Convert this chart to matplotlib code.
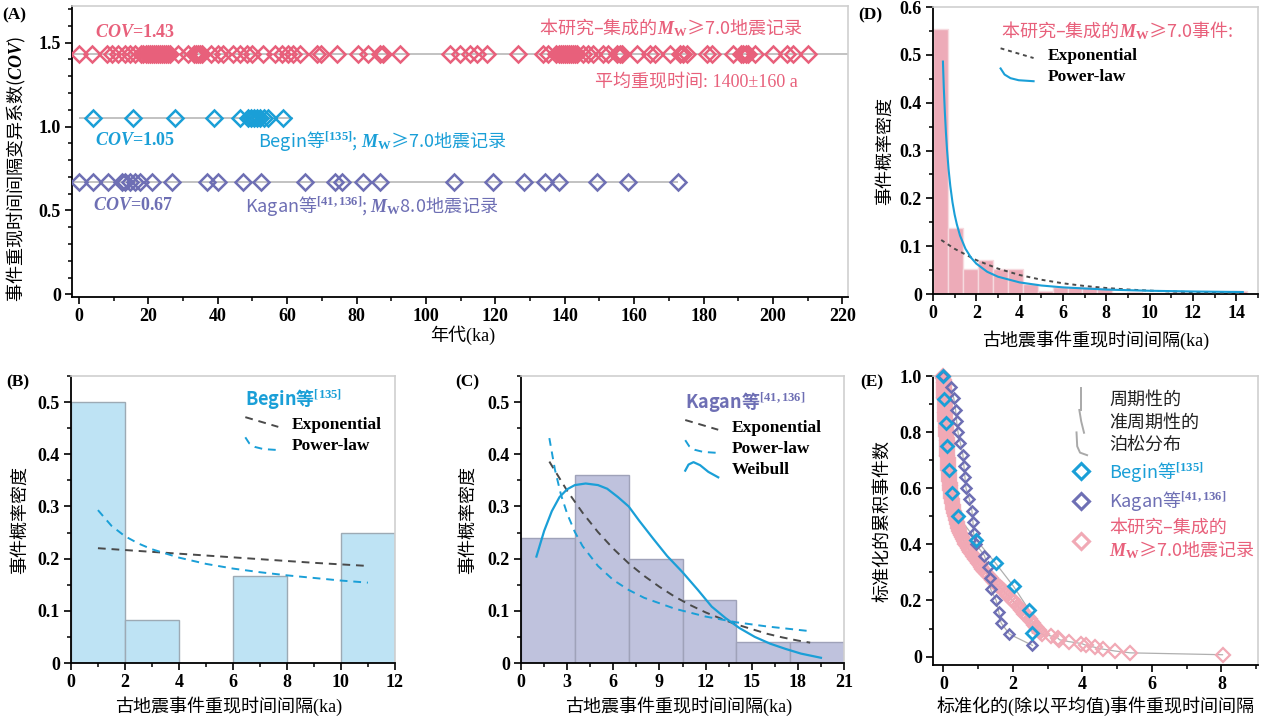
import numpy as np
import matplotlib
matplotlib.use('Agg')
import matplotlib.pyplot as plt
from matplotlib.ticker import MultipleLocator, FuncFormatter
from matplotlib.legend_handler import HandlerBase
from matplotlib.lines import Line2D

plt.rcParams['font.family'] = ['Liberation Serif', 'Noto Sans CJK SC']
plt.rcParams['font.weight'] = 'bold'
plt.rcParams['mathtext.fontset'] = 'custom'
plt.rcParams['mathtext.rm'] = 'Liberation Serif:bold'
plt.rcParams['mathtext.it'] = 'Liberation Serif:italic:bold'
plt.rcParams['mathtext.bf'] = 'Liberation Serif:bold'
plt.rcParams['axes.unicode_minus'] = False

PINK = '#E8607B'
BLUE = '#1A9FD7'
PURPLE = '#6E6FB4'
LPINK = '#F1A9B5'
GREY_LINE = '#B8B8B8'
DARK = '#4A4A4A'
CJK = ['Noto Sans CJK SC']   # lines that mix CJK with mathtext

# --- (A) event ages (ka) for each record ---
cov_values = [1.43, 1.05, 0.67]
pink_times = [0.0, 3.7, 8.0, 9.4, 11.3, 13.3, 14.7, 16.1,
              18.0, 18.6, 19.2, 19.8, 20.4, 21.0, 21.6, 22.2, 22.8, 23.4, 24.0, 24.6, 25.2, 25.8, 26.2,
              28.6, 31.5, 33.2, 33.8, 34.4, 35.0, 35.6, 38.2, 40.1, 41.6, 44.5, 46.4, 48.3, 49.8,
              53.1, 56.5, 58.4, 60.3, 61.8, 63.7, 68.5, 69.9, 74.3, 80.5, 83.4, 86.7, 87.7, 92.5,
              106.9, 109.8, 112.7, 114.6, 117.5, 126.6, 133.8, 135.2,
              137.6, 138.2, 138.8, 139.4, 140.0, 140.6, 141.2, 141.8, 142.4, 143.0, 143.6,
              145.3, 146.8, 148.2, 151.1, 152.5, 155.0, 155.8, 156.4, 160.7, 164.6, 166.0,
              170.3, 173.2, 174.2, 175.1, 180.9, 182.3, 188.6, 190.9, 191.5, 192.2, 192.9,
              194.8, 200.1, 204.0, 205.8, 210.2]
begin_times = [4.1, 15.6, 27.7, 38.9, 46.4, 48.7, 49.6, 50.5, 51.4, 52.3, 53.2, 54.5, 58.8]
kagan_times = [0.0, 4.1, 8.4, 12.3, 13.2, 14.7, 16.1, 17.6, 21.0, 26.7, 36.8, 40.1, 47.2,
               52.6, 65.1, 73.8, 75.7, 81.9, 86.7, 108.2, 119.2, 128.2, 134.3, 138.4,
               149.2, 158.3, 172.5]

# --- (B) Begin histogram and fits ---
b_bin_width = 2
b_heights = [0.5, 0.083, 0.0, 0.167, 0.0, 0.25]
b_exp_x = [1, 3, 5, 7, 9, 11]
b_exp_y = [0.220, 0.213, 0.206, 0.199, 0.192, 0.186]
b_pow_x = [1, 1.5, 2, 2.5, 3, 4, 5, 6, 7, 8, 9, 10, 11]
b_pow_y = [0.293, 0.263, 0.243, 0.229, 0.218, 0.202, 0.190, 0.181, 0.174, 0.168, 0.163, 0.158, 0.154]

# --- (C) Kagan histogram and fits ---
c_bin_width = 3.5
c_heights = [0.24, 0.36, 0.2, 0.12, 0.04, 0.04]
c_exp_x = [1.84, 3, 4, 5, 6, 7, 8, 9, 10, 11, 12, 13, 14, 15, 16, 17, 18, 18.8]
c_exp_y = [0.386, 0.330, 0.288, 0.251, 0.219, 0.191, 0.167, 0.146, 0.127, 0.111, 0.097,
           0.085, 0.074, 0.065, 0.056, 0.049, 0.043, 0.039]
c_pow_x = [1.84, 2.2, 2.6, 3, 3.5, 4, 5, 6, 7, 8, 10, 12, 14, 16, 18.8]
c_pow_y = [0.431, 0.371, 0.322, 0.286, 0.251, 0.224, 0.186, 0.159, 0.140, 0.125, 0.104,
           0.089, 0.078, 0.070, 0.061]
c_wei_x = [1.0, 1.5, 2.0, 2.5, 3.0, 3.5, 4.2, 5.0, 5.6, 6.3, 7.0, 7.7, 8.6, 9.5, 10.5,
           11.5, 12.4, 13.3, 14.2, 15.2, 16.2, 17.2, 18.2, 19.5]
c_wei_y = [0.204, 0.253, 0.291, 0.318, 0.333, 0.341, 0.344, 0.341, 0.334, 0.318, 0.300,
           0.272, 0.238, 0.205, 0.174, 0.140, 0.108, 0.086, 0.067, 0.050, 0.037, 0.027,
           0.018, 0.010]

# --- (D) this study histogram and fits ---
d_bin_width = 0.69
d_heights = [0.554, 0.139, 0.052, 0.071, 0.052, 0.052, 0.021, 0.007, 0.014, 0.014, 0.014,
             0.012, 0.003, 0.004, 0.003, 0.003, 0.004, 0.003, 0.003, 0.003, 0.007]
d_exp_x = [0.38, 1, 2, 3, 4, 5, 6, 7, 8, 9, 10, 11, 12, 13, 14.3]
d_exp_y = [0.113, 0.0945, 0.0709, 0.0531, 0.0398, 0.0299, 0.0224, 0.0168, 0.0126, 0.0094,
           0.0071, 0.0053, 0.0040, 0.0030, 0.0020]
d_pow_x = [0.46, 0.5, 0.55, 0.6, 0.65, 0.72, 0.8, 0.9, 1.0, 1.1, 1.25, 1.5, 1.75, 2.0, 2.5,
           3.0, 4.0, 5.0, 6.0, 8.0, 10.0, 12.0, 14.3]
d_pow_y = [0.486, 0.431, 0.379, 0.336, 0.301, 0.261, 0.226, 0.192, 0.166, 0.146, 0.122,
           0.0946, 0.0765, 0.0635, 0.0466, 0.0362, 0.0243, 0.0178, 0.0139, 0.0093, 0.0068,
           0.0053, 0.0042]

# --- (E) normalized recurrence intervals, sorted ---
e_begin_x = [0.0, 0.03, 0.08, 0.11, 0.15, 0.25, 0.42, 0.94, 1.50, 2.02, 2.46, 2.56]
e_kagan_x = [0.0, 0.22, 0.30, 0.35, 0.38, 0.42, 0.49, 0.56, 0.59, 0.62, 0.65, 0.75, 0.82,
             0.85, 0.87, 0.94, 1.18, 1.28, 1.33, 1.36, 1.52, 1.59, 1.66, 1.90, 2.56]
e_pink_x = [0.00, 0.00, 0.01, 0.01, 0.01, 0.02, 0.02, 0.02, 0.02, 0.03, 0.03, 0.03, 0.03, 0.04, 0.04, 0.04,
            0.04, 0.05, 0.05, 0.05, 0.05, 0.06, 0.06, 0.06, 0.06, 0.07, 0.07, 0.07, 0.07, 0.08, 0.08,
            0.08, 0.08, 0.09, 0.09, 0.09, 0.10, 0.10, 0.10, 0.10, 0.11, 0.11, 0.11, 0.11, 0.12, 0.12,
            0.12, 0.13, 0.13, 0.14, 0.14, 0.15, 0.15, 0.16, 0.16, 0.17, 0.17, 0.18, 0.18, 0.19, 0.19,
            0.20, 0.21, 0.22, 0.22, 0.23, 0.24, 0.25,
            0.26, 0.27, 0.28, 0.29, 0.30, 0.31, 0.32, 0.33,
            0.35, 0.36, 0.38, 0.40, 0.41, 0.43, 0.45,
            0.46, 0.49, 0.51, 0.54, 0.56, 0.58, 0.61, 0.63,
            0.67, 0.70, 0.74, 0.77, 0.81, 0.84, 0.88,
            0.92, 0.96, 1.00, 1.04, 1.08, 1.12, 1.16, 1.20,
            1.25, 1.30, 1.36, 1.41, 1.46, 1.52, 1.57,
            1.62, 1.68, 1.74, 1.79, 1.84, 1.89, 1.95, 2.00,
            2.04, 2.09, 2.14, 2.19, 2.24, 2.28, 2.33,
            2.38, 2.43, 2.48, 2.53, 2.58, 2.62, 2.66, 2.70,
            2.74, 2.78,
            2.84, 3.10, 3.29, 3.34, 3.61, 3.97, 4.11, 4.35, 4.59, 4.93, 5.38, 8.03]


class ShapeHandler(HandlerBase):
    # draws a legend key along a small custom path
    def __init__(self, us, vs):
        super().__init__()
        self.us, self.vs = us, vs

    def create_artists(self, legend, orig_handle, xdescent, ydescent, width, height, fontsize, trans):
        xs = [-xdescent + width * u for u in self.us]
        ys = [-ydescent + height * v for v in self.vs]
        ln = Line2D(xs, ys)
        self.update_prop(ln, orig_handle, legend)
        ln.set_transform(trans)
        return [ln]


EXP_SHAPE = ([0, 1], [0.95, 0.15])
POW_SHAPE = ([0, 0.12, 0.3, 0.55, 1], [1.05, 0.55, 0.25, 0.08, 0.0])
WEI_SHAPE = ([0, 0.1, 0.25, 0.45, 0.7, 1], [0.3, 0.8, 1.0, 0.75, 0.2, -0.25])

fmt = FuncFormatter(lambda v, p: '0' if abs(v) < 1e-9 else f'{v:.1f}')
LABEL_FS = 13


def style_axes(ax):
    for s in ['left', 'bottom']:
        ax.spines[s].set_color('black')
        ax.spines[s].set_linewidth(1.3)
    for s in ['top', 'right']:
        ax.spines[s].set_color('#CFCFCF')
        ax.spines[s].set_linewidth(1.2)
    ax.tick_params(which='major', direction='out', length=5, width=1.2, labelsize=13, pad=3)
    ax.tick_params(which='minor', direction='out', length=3, width=1.1)
    ax.tick_params(top=False, right=False, which='both')


fig = plt.figure(figsize=(12.69, 7.18), dpi=100)
fig.patch.set_facecolor('white')

# ---------------- (A) ----------------
axA = fig.add_axes([0.0567, 0.5864, 0.6115, 0.4053])
axA.axhline(cov_values[0], color=GREY_LINE, lw=1.2, zorder=1)
axA.hlines(cov_values[1], 0, max(begin_times) + 3, color=GREY_LINE, lw=1.2, zorder=1)
axA.hlines(cov_values[2], -2, max(kagan_times), color=GREY_LINE, lw=1.2, zorder=1)
for times, cov, col in [(pink_times, cov_values[0], PINK), (begin_times, cov_values[1], BLUE),
                        (kagan_times, cov_values[2], PURPLE)]:
    axA.plot(times, [cov] * len(times), ls='none', marker='D', ms=8.5, mfc='none',
             mec=col, mew=1.8, zorder=3)
axA.set_xlim(-2, 221.6)
axA.set_ylim(-0.015, 1.718)
axA.xaxis.set_major_locator(MultipleLocator(20))
axA.xaxis.set_minor_locator(MultipleLocator(10))
axA.yaxis.set_major_locator(MultipleLocator(0.5))
axA.yaxis.set_minor_locator(MultipleLocator(0.1))
axA.yaxis.set_major_formatter(fmt)
style_axes(axA)
axA.set_xlabel('年代(ka)', fontsize=LABEL_FS, fontweight='normal')
axA.xaxis.set_label_coords(0.504, -0.097)
axA.set_ylabel('事件重现时间间隔变异系数($COV$)', fontsize=LABEL_FS, fontweight='normal', family=CJK)
axA.yaxis.set_label_coords(-0.057, 0.44)

axA.text(4.6, 1.558, r'$COV$=1.43', color=PINK, fontsize=13, va='center', ha='left')
axA.text(208.4, 1.588, r'本研究–集成的$M_{\mathrm{W}}$≥7.0地震记录', color=PINK, fontsize=13,
         fontweight='normal', family=CJK, va='center', ha='right')
axA.text(207.2, 1.266, '平均重现时间: 1400±160 a', color=PINK, fontsize=13,
         fontweight='normal', va='center', ha='right')
axA.text(4.6, 0.915, r'$COV$=1.05', color=BLUE, fontsize=13, va='center', ha='left')
axA.text(51.6, 0.915, r'Begin等$^{[135]}$; $M_{\mathrm{W}}$≥7.0地震记录', color=BLUE, fontsize=13,
         fontweight='normal', family=CJK, va='center', ha='left')
axA.text(4.0, 0.528, r'$COV$=0.67', color=PURPLE, fontsize=13, va='center', ha='left')
axA.text(47.8, 0.528, r'Kagan等$^{[41,136]}$; $M_{\mathrm{W}}$8.0地震记录', color=PURPLE, fontsize=13,
         fontweight='normal', family=CJK, va='center', ha='left')

# ---------------- (B) ----------------
axB = fig.add_axes([0.0559, 0.0766, 0.2553, 0.3997])
b_lefts = np.arange(len(b_heights)) * b_bin_width
axB.bar(b_lefts, b_heights, width=b_bin_width, align='edge', color='#BEE3F4',
        edgecolor='#9DAAB4', lw=1.0, zorder=1)
h_exp, = axB.plot(b_exp_x, b_exp_y, color=DARK, ls=(0, (4, 3)), lw=1.4, zorder=3)
h_pow, = axB.plot(b_pow_x, b_pow_y, color=BLUE, ls=(0, (4, 3)), lw=1.4, zorder=3)
axB.set_xlim(0, 12)
axB.set_ylim(0, 0.55)
axB.xaxis.set_major_locator(MultipleLocator(2))
axB.xaxis.set_minor_locator(MultipleLocator(1))
axB.yaxis.set_major_locator(MultipleLocator(0.1))
axB.yaxis.set_minor_locator(MultipleLocator(0.05))
axB.yaxis.set_major_formatter(fmt)
style_axes(axB)
legB = axB.legend([h_exp, h_pow], ['Exponential', 'Power-law'], loc='upper left',
                  bbox_to_anchor=(0.49, 1.015), frameon=False, fontsize=12.5,
                  title=r'Begin等$^{[135]}$',
                  title_fontproperties={'family': CJK, 'size': 13, 'weight': 'bold'},
                  alignment='left', handlelength=1.9, handletextpad=0.8, labelspacing=0.3,
                  handler_map={h_exp: ShapeHandler(*EXP_SHAPE), h_pow: ShapeHandler(*POW_SHAPE)})
legB.get_title().set_color(BLUE)
axB.set_xlabel('古地震事件重现时间间隔(ka)', fontsize=LABEL_FS, fontweight='normal')
axB.xaxis.set_label_coords(0.488, -0.115)
axB.set_ylabel('事件概率密度', fontsize=LABEL_FS, fontweight='normal')
axB.yaxis.set_label_coords(-0.13, 0.5)

# ---------------- (C) ----------------
axC = fig.add_axes([0.4106, 0.0766, 0.2545, 0.3997])
c_lefts = np.arange(len(c_heights)) * c_bin_width
axC.bar(c_lefts, c_heights, width=c_bin_width, align='edge', color='#BFC2DD',
        edgecolor='#9FA2B9', lw=1.0, zorder=1)
hc_exp, = axC.plot(c_exp_x, c_exp_y, color=DARK, ls=(0, (4, 3)), lw=1.4, zorder=3)
hc_pow, = axC.plot(c_pow_x, c_pow_y, color=BLUE, ls=(0, (4, 3)), lw=1.4, zorder=3)
hc_wei, = axC.plot(c_wei_x, c_wei_y, color=BLUE, lw=1.6, zorder=3)
axC.set_xlim(0, 21)
axC.set_ylim(0, 0.55)
axC.xaxis.set_major_locator(MultipleLocator(3))
axC.xaxis.set_minor_locator(MultipleLocator(1.5))
axC.yaxis.set_major_locator(MultipleLocator(0.1))
axC.yaxis.set_minor_locator(MultipleLocator(0.05))
axC.yaxis.set_major_formatter(fmt)
style_axes(axC)
legC = axC.legend([hc_exp, hc_pow, hc_wei], ['Exponential', 'Power-law', 'Weibull'], loc='upper left',
                  bbox_to_anchor=(0.46, 1.005), frameon=False, fontsize=12.5,
                  title=r'Kagan等$^{[41,136]}$',
                  title_fontproperties={'family': CJK, 'size': 13, 'weight': 'bold'},
                  alignment='left', handlelength=1.9, handletextpad=0.8, labelspacing=0.3,
                  handler_map={hc_exp: ShapeHandler(*EXP_SHAPE), hc_pow: ShapeHandler(*POW_SHAPE),
                               hc_wei: ShapeHandler(*WEI_SHAPE)})
legC.get_title().set_color(PURPLE)
axC.set_xlabel('古地震事件重现时间间隔(ka)', fontsize=LABEL_FS, fontweight='normal')
axC.xaxis.set_label_coords(0.489, -0.115)
axC.set_ylabel('事件概率密度', fontsize=LABEL_FS, fontweight='normal')
axC.yaxis.set_label_coords(-0.136, 0.5)

# ---------------- (D) ----------------
axD = fig.add_axes([0.7352, 0.5905, 0.2561, 0.3997])
d_lefts = np.arange(len(d_heights)) * d_bin_width
axD.bar(d_lefts, d_heights, width=d_bin_width, align='edge', color='#EDABB8',
        edgecolor='#F6DADF', lw=1.0, zorder=1)
hd_exp, = axD.plot(d_exp_x, d_exp_y, color=DARK, ls=(0, (2, 2)), lw=1.4, zorder=3)
hd_pow, = axD.plot(d_pow_x, d_pow_y, color=BLUE, lw=1.5, zorder=3)
axD.set_xlim(0, 15)
axD.set_ylim(0, 0.6)
axD.xaxis.set_major_locator(MultipleLocator(2))
axD.xaxis.set_minor_locator(MultipleLocator(1))
axD.yaxis.set_major_locator(MultipleLocator(0.1))
axD.yaxis.set_minor_locator(MultipleLocator(0.05))
axD.yaxis.set_major_formatter(fmt)
style_axes(axD)
legD = axD.legend([hd_exp, hd_pow], ['Exponential', 'Power-law'], loc='upper left',
                  bbox_to_anchor=(0.16, 1.01), frameon=False, fontsize=12.5,
                  title=r'本研究–集成的$M_{\mathrm{W}}$≥7.0事件:',
                  title_fontproperties={'family': CJK, 'size': 13, 'weight': 'normal'},
                  alignment='left', handlelength=1.9, handletextpad=0.8, labelspacing=0.3,
                  handler_map={hd_exp: ShapeHandler(*EXP_SHAPE), hd_pow: ShapeHandler(*POW_SHAPE)})
legD.get_title().set_color(PINK)
axD.set_xlabel('古地震事件重现时间间隔(ka)', fontsize=LABEL_FS, fontweight='normal')
axD.xaxis.set_label_coords(0.5, -0.125)
axD.set_ylabel('事件概率密度', fontsize=LABEL_FS, fontweight='normal')
axD.yaxis.set_label_coords(-0.12, 0.5)

# ---------------- (E) ----------------
axE = fig.add_axes([0.7352, 0.0738, 0.2561, 0.4025])
series_E = [(e_pink_x, LPINK, 7.0, 1.6), (e_kagan_x, PURPLE, 5.5, 1.8), (e_begin_x, BLUE, 6.0, 2.0)]
for xs, col, ms, mew in series_E:
    n = len(xs)
    ys = (n - np.arange(n)) / n
    axE.plot(xs, ys, color='#AFAFAF', lw=0.9, zorder=2, clip_on=False)
    axE.plot(xs, ys, ls='none', marker='D', ms=ms, mfc='none', mec=col, mew=mew,
             zorder=3, clip_on=False)
axE.set_xlim(-0.3, 9.05)
axE.set_ylim(-0.03, 1.0)
axE.xaxis.set_major_locator(MultipleLocator(2))
axE.xaxis.set_minor_locator(MultipleLocator(1))
axE.yaxis.set_major_locator(MultipleLocator(0.2))
axE.yaxis.set_minor_locator(MultipleLocator(0.1))
axE.yaxis.set_major_formatter(fmt)
style_axes(axE)

he_per = Line2D([], [], color='#A9A9A9', lw=1.4)
he_qua = Line2D([], [], color='#A9A9A9', lw=1.4)
he_poi = Line2D([], [], color='#A9A9A9', lw=1.4)
he_beg = Line2D([], [], ls='none', marker='D', ms=8, mfc='none', mec=BLUE, mew=2.2)
he_kag = Line2D([], [], ls='none', marker='D', ms=8, mfc='none', mec=PURPLE, mew=2.2)
he_pin = Line2D([], [], ls='none', marker='D', ms=8, mfc='none', mec=LPINK, mew=2.2)
legE = axE.legend([he_per, he_qua, he_poi, he_beg, he_kag, he_pin],
                  ['周期性的', '准周期性的', '泊松分布', r'Begin等$^{[135]}$', r'Kagan等$^{[41,136]}$',
                   '本研究–集成的\n$M_{\\mathrm{W}}$≥7.0地震记录'],
                  loc='upper left', bbox_to_anchor=(0.37, 1.0), frameon=False,
                  prop={'size': 13, 'weight': 'normal'}, handlelength=1.3, handletextpad=0.9,
                  labelspacing=0.3, numpoints=1,
                  handler_map={he_per: ShapeHandler([0.5, 0.5], [-0.4, 1.4]),
                               he_qua: ShapeHandler([0.42, 0.5, 0.62], [1.4, 0.5, -0.4]),
                               he_poi: ShapeHandler([0.3, 0.33, 0.45, 0.75], [1.4, 0.3, -0.2, -0.4])})
for i, (t, c) in enumerate(zip(legE.get_texts(), ['#222222', '#222222', '#222222', BLUE, PURPLE, PINK])):
    t.set_color(c)
    if i >= 3:
        t.set_family(CJK)
axE.set_xlabel('标准化的(除以平均值)事件重现时间间隔', fontsize=LABEL_FS, fontweight='normal')
axE.xaxis.set_label_coords(0.5, -0.107)
axE.set_ylabel('标准化的累积事件数', fontsize=LABEL_FS, fontweight='normal')
axE.yaxis.set_label_coords(-0.129, 0.5)

# panel letters
for lab, px, py in [('(A)', 2, 15), ('(B)', 6, 382), ('(C)', 455, 382), ('(D)', 858, 15), ('(E)', 860, 382)]:
    fig.text(px / 1269, 1 - py / 718, lab, fontsize=12.5, ha='left', va='center')

fig.savefig('out.png', dpi=100)
